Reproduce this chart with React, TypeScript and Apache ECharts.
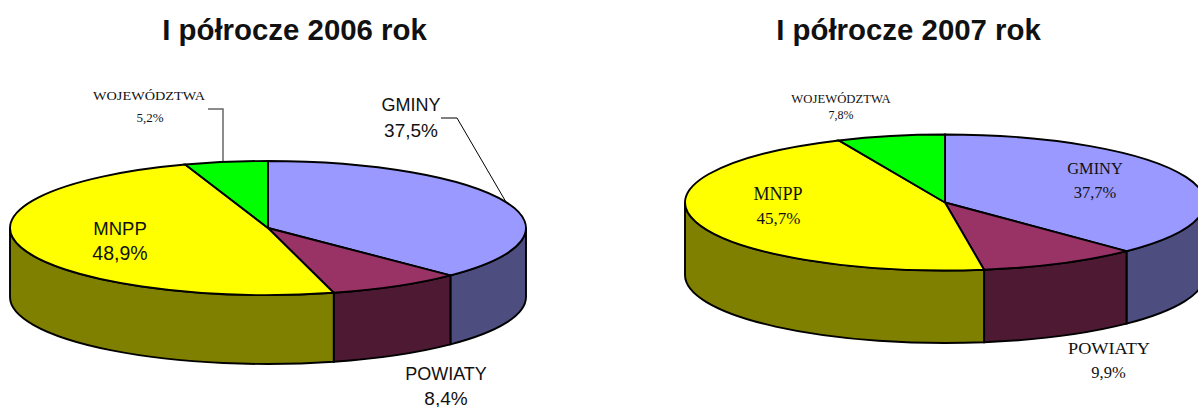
import React, { useEffect, useRef } from "react";
import * as echarts from "echarts";

const sliceNames = ["GMINY", "POWIATY", "MNPP", "WOJEWÓDZTWA"];
const values2006 = [37.5, 8.4, 48.9, 5.2];
const values2007 = [37.7, 9.9, 45.7, 7.8];
const topColors = ["#9999FF", "#993366", "#FFFF00", "#00FF00"];
const wallColors = ["#4D4D80", "#4D1933", "#808000", "#008000"];

const SANS = '"Liberation Sans", Arial, sans-serif';
const SERIF = '"Liberation Serif", "Times New Roman", serif';

const pie2006 = { cx: 268, cy: 228, rx: 258, ry: 67, depth: 69 };
const pie2007 = { cx: 945, cy: 202.5, rx: 260, ry: 68, depth: 72.5 };

type Pie = typeof pie2006;

function pt(p: Pie, deg: number, dy = 0) {
  const a = (deg * Math.PI) / 180;
  return [p.cx + p.rx * Math.sin(a), p.cy - p.ry * Math.cos(a) + dy];
}

function arcTo(p: Pie, from: number, to: number, dy = 0) {
  const [x, y] = pt(p, to, dy);
  const large = Math.abs(to - from) > 180 ? 1 : 0;
  const sweep = to > from ? 1 : 0;
  return `A ${p.rx} ${p.ry} 0 ${large} ${sweep} ${x} ${y}`;
}

function pieSeries(p: Pie, values: number[]) {
  const starts: number[] = [];
  let acc = 0;
  values.forEach((v) => {
    starts.push(acc);
    acc += v;
  });
  return {
    type: "custom",
    coordinateSystem: "none",
    silent: true,
    clip: false,
    data: values.map((v) => [v]),
    renderItem: (params: any, api: any) => {
      const i = params.dataIndex;
      const a0 = (starts[i] / 100) * 360;
      const a1 = (Math.min(starts[i] + api.value(0), 100) / 100) * 360;
      const end = i === values.length - 1 ? 360 : a1;
      const children: any[] = [];
      const w0 = Math.max(a0, 90);
      const w1 = Math.min(end, 270);
      if (w1 > w0) {
        const [sx, sy] = pt(p, w0);
        const [bx, by] = pt(p, w1, p.depth);
        children.push({
          type: "path",
          shape: {
            pathData: `M ${sx} ${sy} ${arcTo(p, w0, w1)} L ${bx} ${by} ${arcTo(p, w1, w0, p.depth)} Z`,
          },
          style: { fill: wallColors[i], stroke: "#000", lineWidth: 1.9 },
        });
      }
      const [x0, y0] = pt(p, a0);
      children.push({
        type: "path",
        shape: {
          pathData: `M ${p.cx} ${p.cy} L ${x0} ${y0} ${arcTo(p, a0, end)} Z`,
        },
        style: { fill: topColors[i], stroke: "#000", lineWidth: 1.9 },
      });
      return { type: "group", children };
    },
  };
}

function label(text: string, x: number, y: number, font: string, size: number, stretch = 1, weight = "normal") {
  return {
    type: "text",
    x,
    y,
    z: 100,
    scaleX: stretch,
    silent: true,
    style: {
      text,
      fontFamily: font,
      fontSize: size,
      fontWeight: weight,
      fill: "#111",
      align: "center",
      verticalAlign: "middle",
    },
  };
}

function pct(v: number) {
  return v.toFixed(1).replace(".", ",") + "%";
}

export default function App() {
  const ref = useRef<HTMLDivElement>(null);
  useEffect(() => {
    document.body.style.margin = "0";
    const chart = echarts.init(ref.current!, null, { renderer: "svg" });
    chart.setOption({
      animation: false,
      backgroundColor: "#fff",
      series: [pieSeries(pie2006, values2006), pieSeries(pie2007, values2007)],
      graphic: [
        label("I półrocze 2006 rok", 294.5, 29, SANS, 29.4, 1, "bold"),
        label("I półrocze 2007 rok", 908.5, 29, SANS, 29.4, 1, "bold"),
        { type: "polyline", z: 1, silent: true, shape: { points: [[208, 109], [223, 109], [223, 162]] }, style: { fill: "none", stroke: "#666", lineWidth: 1.5 } },
        { type: "polyline", z: 1, silent: true, shape: { points: [[441, 118], [457, 118], [506, 202]] }, style: { fill: "none", stroke: "#000", lineWidth: 1 } },
        label(sliceNames[0], 411, 105, SANS, 18),
        label(pct(values2006[0]), 411, 130, SANS, 19),
        label(sliceNames[1], 446, 374, SANS, 18),
        label(pct(values2006[1]), 446, 398, SANS, 19),
        label(sliceNames[2], 120, 228, SANS, 18.5),
        label(pct(values2006[2]), 120, 252.5, SANS, 19.5),
        label(sliceNames[3], 149, 95.5, SERIF, 13, 1.1),
        label(pct(values2006[3]), 150, 117.5, SERIF, 13),
        label(sliceNames[0], 1095, 168, SERIF, 16.4),
        label(pct(values2007[0]), 1095, 192, SERIF, 16.5),
        label(sliceNames[1], 1109, 349, SERIF, 16, 1.14),
        label(pct(values2007[1]), 1108.5, 372.5, SERIF, 16.5),
        label(sliceNames[2], 778, 194, SERIF, 18),
        label(pct(values2007[2]), 778.5, 218, SERIF, 17),
        label(sliceNames[3], 841, 99, SERIF, 12.7),
        label(pct(values2007[3]), 841, 115, SERIF, 12),
      ],
    });
    return () => chart.dispose();
  }, []);
  return <div ref={ref} style={{ width: 1198, height: 407, overflow: "hidden" }} />;
}
